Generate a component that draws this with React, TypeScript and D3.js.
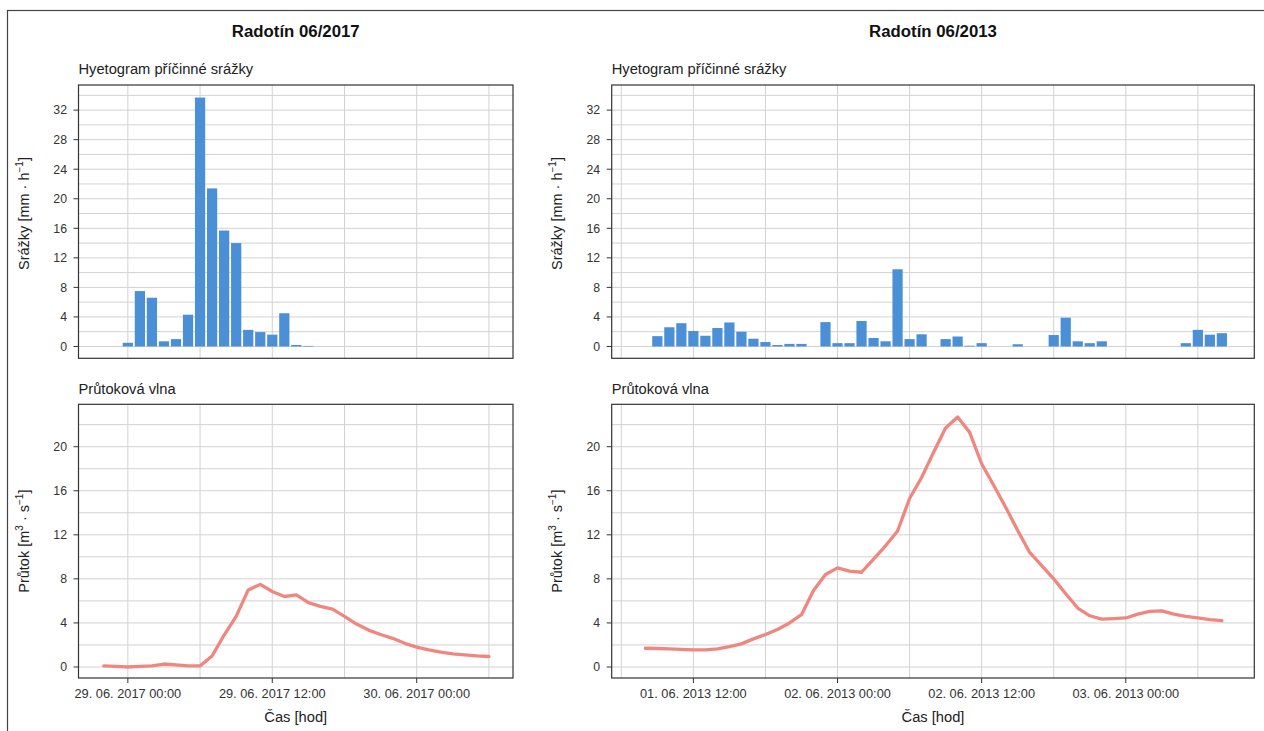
import React from "react";
import * as d3 from "d3";

// ---------- DATA ----------
const leftTitle = "Radotín 06/2017";
const rightTitle = "Radotín 06/2013";
const rainSubtitle = "Hyetogram příčinné srážky";
const flowSubtitle = "Průtoková vlna";
const xTitle = "Čas [hod]";

// hourly rainfall intensity [mm/h]
const leftRainStart = "2017-06-29T00:00:00Z";
const leftRain = [0.5, 7.5, 6.6, 0.7, 1.0, 4.3, 33.7, 21.4, 15.7, 14.0, 2.25, 1.95, 1.6, 4.5, 0.2, 0.08];

// hourly discharge [m3/s]
const leftFlowStart = "2017-06-28T22:00:00Z";
const leftFlow = [0.1, 0.05, 0.0, 0.05, 0.1, 0.27, 0.2, 0.1, 0.1, 1.0, 2.9, 4.6, 7.0, 7.5, 6.85, 6.4, 6.55,
  5.85, 5.5, 5.25, 4.6, 3.9, 3.35, 2.95, 2.6, 2.15, 1.8, 1.55, 1.35, 1.2, 1.1, 1.0, 0.95];

const rightRainStart = "2013-06-01T09:00:00Z";
const rightRain = [1.4, 2.6, 3.15, 2.1, 1.45, 2.5, 3.25, 2.0, 1.05, 0.6, 0.2, 0.35, 0.35, 0, 3.3, 0.45, 0.45,
  3.45, 1.15, 0.7, 10.45, 1.0, 1.65, 0, 1.0, 1.35, 0.1, 0.45, 0, 0, 0.3, 0, 0, 1.55, 3.9, 0.7, 0.45, 0.7,
  0, 0, 0, 0, 0, 0, 0.45, 2.25, 1.6, 1.8];

const rightFlowStart = "2013-06-01T08:00:00Z";
const rightFlow = [1.7, 1.68, 1.65, 1.6, 1.55, 1.55, 1.65, 1.85, 2.1, 2.55, 2.95, 3.4, 4.0, 4.75, 6.95, 8.4,
  9.0, 8.7, 8.6, 9.8, 11.0, 12.35, 15.3, 17.2, 19.5, 21.7, 22.7, 21.3, 18.45, 16.5, 14.5, 12.4, 10.4, 9.2,
  8.0, 6.65, 5.35, 4.65, 4.35, 4.4, 4.45, 4.8, 5.05, 5.1, 4.8, 4.6, 4.45, 4.3, 4.2];

const leftXDomain = ["2017-06-28T19:54:00Z", "2017-06-30T08:00:00Z"];
const rightXDomain = ["2013-06-01T05:12:00Z", "2013-06-03T10:42:00Z"];
const leftXMajor = ["2017-06-29T00:00:00Z", "2017-06-29T12:00:00Z", "2017-06-30T00:00:00Z"];
const leftXMinor = ["2017-06-29T06:00:00Z", "2017-06-29T18:00:00Z", "2017-06-30T06:00:00Z"];
const rightXMajor = ["2013-06-01T12:00:00Z", "2013-06-02T00:00:00Z", "2013-06-02T12:00:00Z", "2013-06-03T00:00:00Z"];
const rightXMinor = ["2013-06-01T06:00:00Z", "2013-06-01T18:00:00Z", "2013-06-02T06:00:00Z", "2013-06-02T18:00:00Z", "2013-06-03T06:00:00Z"];

const rainYDomain = [-1.6, 35.4];
const flowYDomain = [-1.0, 23.85];
const rainTicks = [0, 4, 8, 12, 16, 20, 24, 28, 32];
const rainMinor = [2, 6, 10, 14, 18, 22, 26, 30, 34];
const flowTicks = [0, 4, 8, 12, 16, 20];
const flowMinor = [2, 6, 10, 14, 18, 22];

// ---------- STYLE / LAYOUT ----------
const FONT = "'Liberation Sans', Arial, Helvetica, sans-serif";
const BAR = "#4b8fd6";
const LINE = "#f0877f";
const GRID = "#d2d2d2";
const FRAME = "#333333";

const topY: [number, number] = [358.3, 85];
const botY: [number, number] = [678, 404.3];
const leftX: [number, number] = [78.5, 513];
const rightX: [number, number] = [611.7, 1254.3];

const fmt = d3.utcFormat("%d. %m. %Y %H:%M");
const toD = (s: string) => new Date(s);

function Frame({ x, y }: { x: [number, number]; y: [number, number] }) {
  return (
    <rect x={x[0]} y={y[1]} width={x[1] - x[0]} height={y[0] - y[1]} fill="none" stroke={FRAME} strokeWidth={1.2} />
  );
}

function Grid({ xs, ys, xMaj, xMin, yMaj, yMin }: any) {
  const [x0, x1] = xs.range();
  const [y0, y1] = ys.range();
  return (
    <g>
      {[...yMin, ...yMaj].map((v: number, i: number) => (
        <line key={"h" + i} x1={x0} x2={x1} y1={ys(v)} y2={ys(v)} stroke={GRID} strokeWidth={1} />
      ))}
      {[...xMin, ...xMaj].map((t: string, i: number) => (
        <line key={"v" + i} x1={xs(toD(t))} x2={xs(toD(t))} y1={y0} y2={y1} stroke={GRID} strokeWidth={1} />
      ))}
    </g>
  );
}

function YAxis({ ys, ticks, x }: any) {
  return (
    <g>
      {ticks.map((v: number) => (
        <g key={v}>
          <line x1={x - 5} x2={x} y1={ys(v)} y2={ys(v)} stroke={FRAME} strokeWidth={1} />
          <text x={x - 11.5} y={ys(v)} dy="0.35em" textAnchor="end" fontSize={12.3} fill="#333" fontFamily={FONT}>
            {v}
          </text>
        </g>
      ))}
    </g>
  );
}

function XAxis({ xs, ticks, y }: any) {
  return (
    <g>
      {ticks.map((t: string) => (
        <g key={t}>
          <line x1={xs(toD(t))} x2={xs(toD(t))} y1={y} y2={y + 5} stroke={FRAME} strokeWidth={1} />
          <text x={xs(toD(t))} y={y + 20} textAnchor="middle" fontSize={12.8} fill="#333" fontFamily={FONT}>
            {fmt(toD(t))}
          </text>
        </g>
      ))}
    </g>
  );
}

function RainLabel({ x, y }: { x: number; y: number }) {
  return (
    <text transform={`translate(${x},${y}) rotate(-90)`} textAnchor="middle" fontSize={14.5} fill="#222" fontFamily={FONT}>
      <tspan>Srážky [mm · h</tspan>
      <tspan dy={-6} fontSize={10}>−1</tspan>
      <tspan dy={6}>]</tspan>
    </text>
  );
}

function FlowLabel({ x, y }: { x: number; y: number }) {
  return (
    <text transform={`translate(${x},${y}) rotate(-90)`} textAnchor="middle" fontSize={14.5} fill="#222" fontFamily={FONT}>
      <tspan>Průtok [m</tspan>
      <tspan dy={-6} fontSize={10}>3</tspan>
      <tspan dy={6}> · s</tspan>
      <tspan dy={-6} fontSize={10}>−1</tspan>
      <tspan dy={6}>]</tspan>
    </text>
  );
}

function Column({ title, xRange, xDomain, xMaj, xMin, rain, rainStart, flow, flowStart, rainLabelY }: any) {
  const xs = d3.scaleUtc().domain(xDomain.map(toD)).range(xRange);
  const ysR = d3.scaleLinear().domain(rainYDomain).range(topY);
  const ysF = d3.scaleLinear().domain(flowYDomain).range(botY);
  const rs = toD(rainStart);
  const fs = toD(flowStart);
  const hourPx = xs(d3.utcHour.offset(rs, 1)) - xs(rs);
  const bw = hourPx * 0.85;
  const line = d3
    .line<number>()
    .x((_, i) => xs(d3.utcHour.offset(fs, i)))
    .y((d) => ysF(d));
  const cx = (xRange[0] + xRange[1]) / 2;
  return (
    <g>
      <text x={cx} y={37} textAnchor="middle" fontSize={16.8} fontWeight="bold" fill="#111" fontFamily={FONT}>
        {title}
      </text>
      <text x={xRange[0]} y={74} fontSize={14.7} fill="#222" fontFamily={FONT}>{rainSubtitle}</text>
      <text x={xRange[0]} y={393.5} fontSize={14.7} fill="#222" fontFamily={FONT}>{flowSubtitle}</text>

      <rect x={xRange[0]} y={topY[1]} width={xRange[1] - xRange[0]} height={topY[0] - topY[1]} fill="#fff" />
      <Grid xs={xs} ys={ysR} xMaj={xMaj} xMin={xMin} yMaj={rainTicks} yMin={rainMinor} />
      {rain.map((v: number, i: number) => {
        const t = d3.utcHour.offset(rs, i);
        if (v <= 0) return null;
        return (
          <rect key={i} x={xs(t) - bw / 2} y={ysR(v)} width={bw} height={ysR(0) - ysR(v)} fill={BAR} />
        );
      })}
      <Frame x={xRange} y={topY} />
      <YAxis ys={ysR} ticks={rainTicks} x={xRange[0]} />
      <RainLabel x={xRange[0] - 50} y={rainLabelY} />

      <rect x={xRange[0]} y={botY[1]} width={xRange[1] - xRange[0]} height={botY[0] - botY[1]} fill="#fff" />
      <Grid xs={xs} ys={ysF} xMaj={xMaj} xMin={xMin} yMaj={flowTicks} yMin={flowMinor} />
      <path d={line(flow) || ""} fill="none" stroke={LINE} strokeWidth={3.3} strokeLinejoin="round" strokeLinecap="round" />
      <Frame x={xRange} y={botY} />
      <YAxis ys={ysF} ticks={flowTicks} x={xRange[0]} />
      <XAxis xs={xs} ticks={xMaj} y={botY[0]} />
      <FlowLabel x={xRange[0] - 50} y={(botY[0] + botY[1]) / 2} />
      <text x={cx} y={721.5} textAnchor="middle" fontSize={14.7} fill="#222" fontFamily={FONT}>{xTitle}</text>
    </g>
  );
}

export default function App() {
  return (
    <svg width={1264} height={731} style={{ position: "absolute", left: 0, top: 0, background: "#fff" }}>
      <rect x={0} y={0} width={1264} height={731} fill="#fff" />
      <rect x={7.5} y={10.5} width={1270} height={740} fill="none" stroke="#444" strokeWidth={1.2} />
      <Column
        title={leftTitle}
        xRange={leftX}
        xDomain={leftXDomain}
        xMaj={leftXMajor}
        xMin={leftXMinor}
        rain={leftRain}
        rainStart={leftRainStart}
        flow={leftFlow}
        flowStart={leftFlowStart}
        rainLabelY={213.5}
      />
      <Column
        title={rightTitle}
        xRange={rightX}
        xDomain={rightXDomain}
        xMaj={rightXMajor}
        xMin={rightXMinor}
        rain={rightRain}
        rainStart={rightRainStart}
        flow={rightFlow}
        flowStart={rightFlowStart}
        rainLabelY={213.5}
      />
    </svg>
  );
}
